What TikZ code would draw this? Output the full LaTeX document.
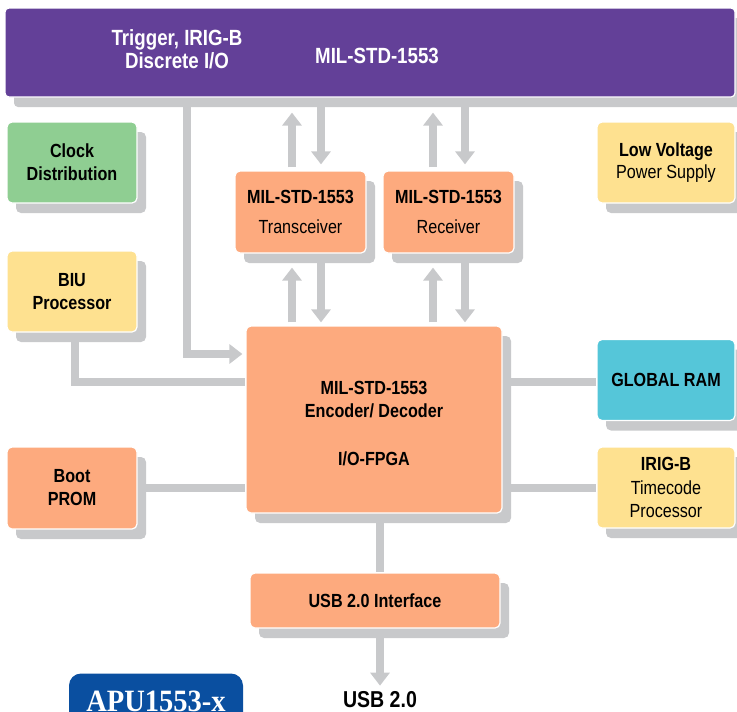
\documentclass[tikz,border=0pt]{standalone}
\usepackage{fontspec}
\setmainfont{Liberation Sans}[FakeStretch=0.85]
\newfontfamily\apufont{Liberation Serif}[FakeStretch=0.92]
\usetikzlibrary{arrows.meta,shadows,backgrounds,calc}
\definecolor{shgray}{HTML}{C8C9CB}
\definecolor{barpurple}{HTML}{634098}
\definecolor{boxgreen}{HTML}{8FCE92}
\definecolor{boxyellow}{HTML}{FEE190}
\definecolor{boxsalmon}{HTML}{FDAA7E}
\definecolor{boxcyan}{HTML}{55C6D9}
\definecolor{apublue}{HTML}{0A4FA0}
\begin{document}
\begin{tikzpicture}[x=1pt,y=-1pt,
  box/.style={rounded corners=5pt, draw=white, line width=1.2pt, inner sep=0pt,
    align=center, font=\fontsize{19}{23}\selectfont, text=black,
    copy shadow={shadow xshift=9pt, shadow yshift=-10pt, fill=shgray, draw=none}},
  conn/.style={draw=shgray, line width=8pt},
  arr/.style={-{Triangle[width=19pt,length=13pt]}},
  bartext/.style={text=white, align=center, font=\fontsize{22}{23}\selectfont\bfseries, inner sep=0pt},
]
\useasboundingbox (0,0) rectangle (737,712);
\clip (0,0) rectangle (737,712);

% top bar
\node[box, fill=barpurple, rounded corners=4pt, minimum width=730pt, minimum height=89pt] (top) at (370,52.5) {};
\node[bartext] (trig) at (177,49.5) {Trigger, IRIG-B\\Discrete I/O};
\node[bartext] (mil) at (377,56) {MIL-STD-1553};

% left column
\node[box, fill=boxgreen, minimum width=130pt, minimum height=81pt] (clock) at (72,162.5) {\bfseries Clock\\\bfseries Distribution};
\node[box, fill=boxyellow, minimum width=130pt, minimum height=81pt] (biu) at (72,291.5) {\bfseries BIU\\\bfseries Processor};
\node[box, fill=boxsalmon, minimum width=130pt, minimum height=82pt] (boot) at (72,488) {\bfseries Boot\\\bfseries PROM};

% transceiver / receiver
\node[box, fill=boxsalmon, minimum width=131pt, minimum height=82pt, font=\fontsize{19}{30}\selectfont] (trans) at (300.5,212) {\textbf{MIL-STD-1553}\\Transceiver};
\node[box, fill=boxsalmon, minimum width=131pt, minimum height=82pt, font=\fontsize{19}{30}\selectfont] (recv) at (448.5,212) {\textbf{MIL-STD-1553}\\Receiver};

% encoder
\node[box, fill=boxsalmon, minimum width=256pt, minimum height=187pt] (enc) at (374,419.5) {};
\node[inner sep=0pt, align=center, font=\fontsize{19}{23}\selectfont\bfseries] (enctxt) at ($(enc.center)+(0,4.5)$) {MIL-STD-1553\\Encoder/ Decoder\\[25pt]I/O-FPGA};

% right column
\node[box, fill=boxyellow, minimum width=138pt, minimum height=81pt, font=\fontsize{19}{22}\selectfont] (lowv) at (666,162.5) {\textbf{Low Voltage}\\Power Supply};
\node[box, fill=boxcyan, minimum width=138pt, minimum height=81pt] (gram) at (666,380) {\bfseries GLOBAL RAM};
\node[box, fill=boxyellow, minimum width=138pt, minimum height=81pt, font=\fontsize{19}{23.5}\selectfont] (irig) at (666,487.5) {\textbf{IRIG-B}\\Timecode\\Processor};

% usb
\node[box, fill=boxsalmon, minimum width=250pt, minimum height=55pt] (usb) at (375,600.5) {\bfseries USB 2.0 Interface};
\node[inner sep=0pt, font=\fontsize{23}{25}\selectfont\bfseries] (usbtxt) at (380,700) {USB 2.0};

% APU label
\node[fill=apublue, rounded corners=12pt, minimum width=174pt, minimum height=55pt, inner sep=0pt,
  text=white, font=\apufont\fontsize{31}{32}\selectfont\bfseries] (apu) at (156,701) {APU1553-x};

\begin{scope}[on background layer]
  % top bar <-> transceiver
  \draw[conn,arr] ($(trans.north)+(-8.5,-3)$) -- ($(trans.north |- top.south)+(-8.5,15)$);
  \draw[conn,arr] ($(trans.north |- top.south)+(20.5,5)$) -- ($(trans.north)+(20.5,-6)$);
  % top bar <-> receiver
  \draw[conn,arr] ($(recv.north)+(-15.5,-3)$) -- ($(recv.north |- top.south)+(-15.5,15)$);
  \draw[conn,arr] ($(recv.north |- top.south)+(16.5,5)$) -- ($(recv.north)+(16.5,-6)$);
  % transceiver <-> encoder
  \draw[conn,arr] ($(trans.south |- enc.north)+(-8.5,-3)$) -- ($(trans.south)+(-8.5,14)$);
  \draw[conn,arr] ($(trans.south)+(20.5,5)$) -- ($(trans.south |- enc.north)+(20.5,-3)$);
  % receiver <-> encoder
  \draw[conn,arr] ($(recv.south |- enc.north)+(-15.5,-3)$) -- ($(recv.south)+(-15.5,14)$);
  \draw[conn,arr] ($(recv.south)+(16.5,5)$) -- ($(recv.south |- enc.north)+(16.5,-3)$);
  % top bar -> encoder
  \draw[conn,arr] ($(top.south)+(-183,0)$) |- ($(enc.west)+(-3,-65.5)$);
  % BIU - encoder
  \draw[conn] ($(biu.south)+(3,0)$) |- ($(enc.west)+(0,-37.5)$);
  % Boot - encoder
  \draw[conn] (boot.east) -- (boot.east -| enc.west);
  % encoder - right column
  \draw[conn] ($(enc.east |- gram.west)+(0,2)$) -- ($(gram.west)+(0,2)$);
  \draw[conn] (enc.east |- irig.west) -- (irig.west);
  % encoder - usb
  \draw[conn] ($(enc.south)+(6,0)$) -- ($(usb.north)+(5,0)$);
  \draw[conn,arr] ($(usb.south)+(5,0)$) -- ($(usbtxt.north)+(0,-6)$);
\end{scope}
\end{tikzpicture}
\end{document}
